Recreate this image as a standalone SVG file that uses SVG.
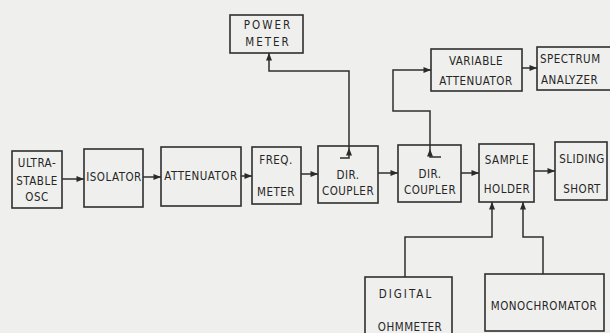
<svg xmlns="http://www.w3.org/2000/svg" width="610" height="333" viewBox="0 0 610 333">
<defs>
<marker id="arr" viewBox="0 0 10 10" refX="10" refY="5" markerWidth="6" markerHeight="5" markerUnits="strokeWidth" orient="auto">
<path d="M0,1 L10,5 L0,9 z" fill="#2a2a2a"/>
</marker>
<style>
.box{fill:none;stroke:#2f2f2f;stroke-width:1.6}
.ln{fill:none;stroke:#2f2f2f;stroke-width:1.5}
.t{font-family:"DejaVu Sans Condensed","Liberation Sans",sans-serif;font-size:11.5px;fill:#262626;text-anchor:middle;dominant-baseline:central;letter-spacing:0.5px}
.w{letter-spacing:2px}
</style>
</defs>
<rect width="610" height="333" fill="#efefed"/>
<g id="osc"><rect class="box" x="12" y="151" width="50" height="57"/>
<text class="t" x="37" y="163">ULTRA-</text><text class="t" x="37" y="181">STABLE</text><text class="t" x="37" y="197">OSC</text></g>
<g id="isolator"><rect class="box" x="84" y="149" width="59" height="58"/>
<text class="t" x="114" y="177">ISOLATOR</text></g>
<g id="attenuator"><rect class="box" x="161" y="147" width="80" height="59"/>
<text class="t" x="201" y="176">ATTENUATOR</text></g>
<g id="freqmeter"><rect class="box" x="252" y="147" width="49" height="57"/>
<text class="t" x="276" y="160">FREQ.</text><text class="t" x="276" y="192">METER</text></g>
<g id="dircoupler1"><rect class="box" x="318" y="146" width="60" height="57"/>
<text class="t" x="348" y="175">DIR.</text><text class="t" x="348" y="191">COUPLER</text></g>
<g id="dircoupler2"><rect class="box" x="398" y="145" width="63" height="57"/>
<text class="t" x="430" y="174">DIR.</text><text class="t" x="430" y="190">COUPLER</text></g>
<g id="sampleholder"><rect class="box" x="479" y="144" width="55" height="58"/>
<text class="t" x="507" y="160">SAMPLE</text><text class="t" x="507" y="189">HOLDER</text></g>
<g id="slidingshort"><rect class="box" x="555" y="142" width="52" height="58"/>
<text class="t" x="582" y="159">SLIDING</text><text class="t" x="582" y="189">SHORT</text></g>
<g id="powermeter"><rect class="box" x="230" y="15" width="73" height="38"/>
<text class="t w" x="268" y="25">POWER</text><text class="t w" x="268" y="42">METER</text></g>
<g id="varatt"><rect class="box" x="431" y="49" width="91" height="42"/>
<text class="t" x="476" y="61">VARIABLE</text><text class="t" x="476" y="81">ATTENUATOR</text></g>
<g id="spectrum"><rect class="box" x="537" y="47" width="80" height="43"/>
<text class="t" x="540" y="59" style="text-anchor:start">SPECTRUM</text><text class="t" x="541" y="80" style="text-anchor:start">ANALYZER</text></g>
<g id="ohmmeter"><rect class="box" x="365" y="277" width="87" height="60"/>
<text class="t w" x="406" y="294">DIGITAL</text><text class="t" x="410" y="327">OHMMETER</text></g>
<g id="monochromator"><rect class="box" x="485" y="274" width="119" height="57"/>
<text class="t" x="544" y="306">MONOCHROMATOR</text></g>
<g id="connectors">
<path class="ln" marker-end="url(#arr)" d="M62,179 H84"/>
<path class="ln" marker-end="url(#arr)" d="M143,177 H161"/>
<path class="ln" marker-end="url(#arr)" d="M241,176 H252"/>
<path class="ln" marker-end="url(#arr)" d="M301,174 H318"/>
<path class="ln" marker-end="url(#arr)" d="M378,173 H398"/>
<path class="ln" marker-end="url(#arr)" d="M461,173 H479"/>
<path class="ln" marker-end="url(#arr)" d="M534,171 H555"/>
<path class="ln" marker-end="url(#arr)" d="M340,158 H349 V148"/>
<path class="ln" marker-end="url(#arr)" d="M349,148 V71 H269 V53"/>
<path class="ln" marker-end="url(#arr)" d="M441,157 H430 V149"/>
<path class="ln" marker-end="url(#arr)" d="M430,149 V111 H393 V70 H431"/>
<path class="ln" marker-end="url(#arr)" d="M522,68 H537"/>
<path class="ln" marker-end="url(#arr)" d="M405,277 V237 H492 V202"/>
<path class="ln" marker-end="url(#arr)" d="M543,274 V237 H523 V202"/>
</g>
</svg>
